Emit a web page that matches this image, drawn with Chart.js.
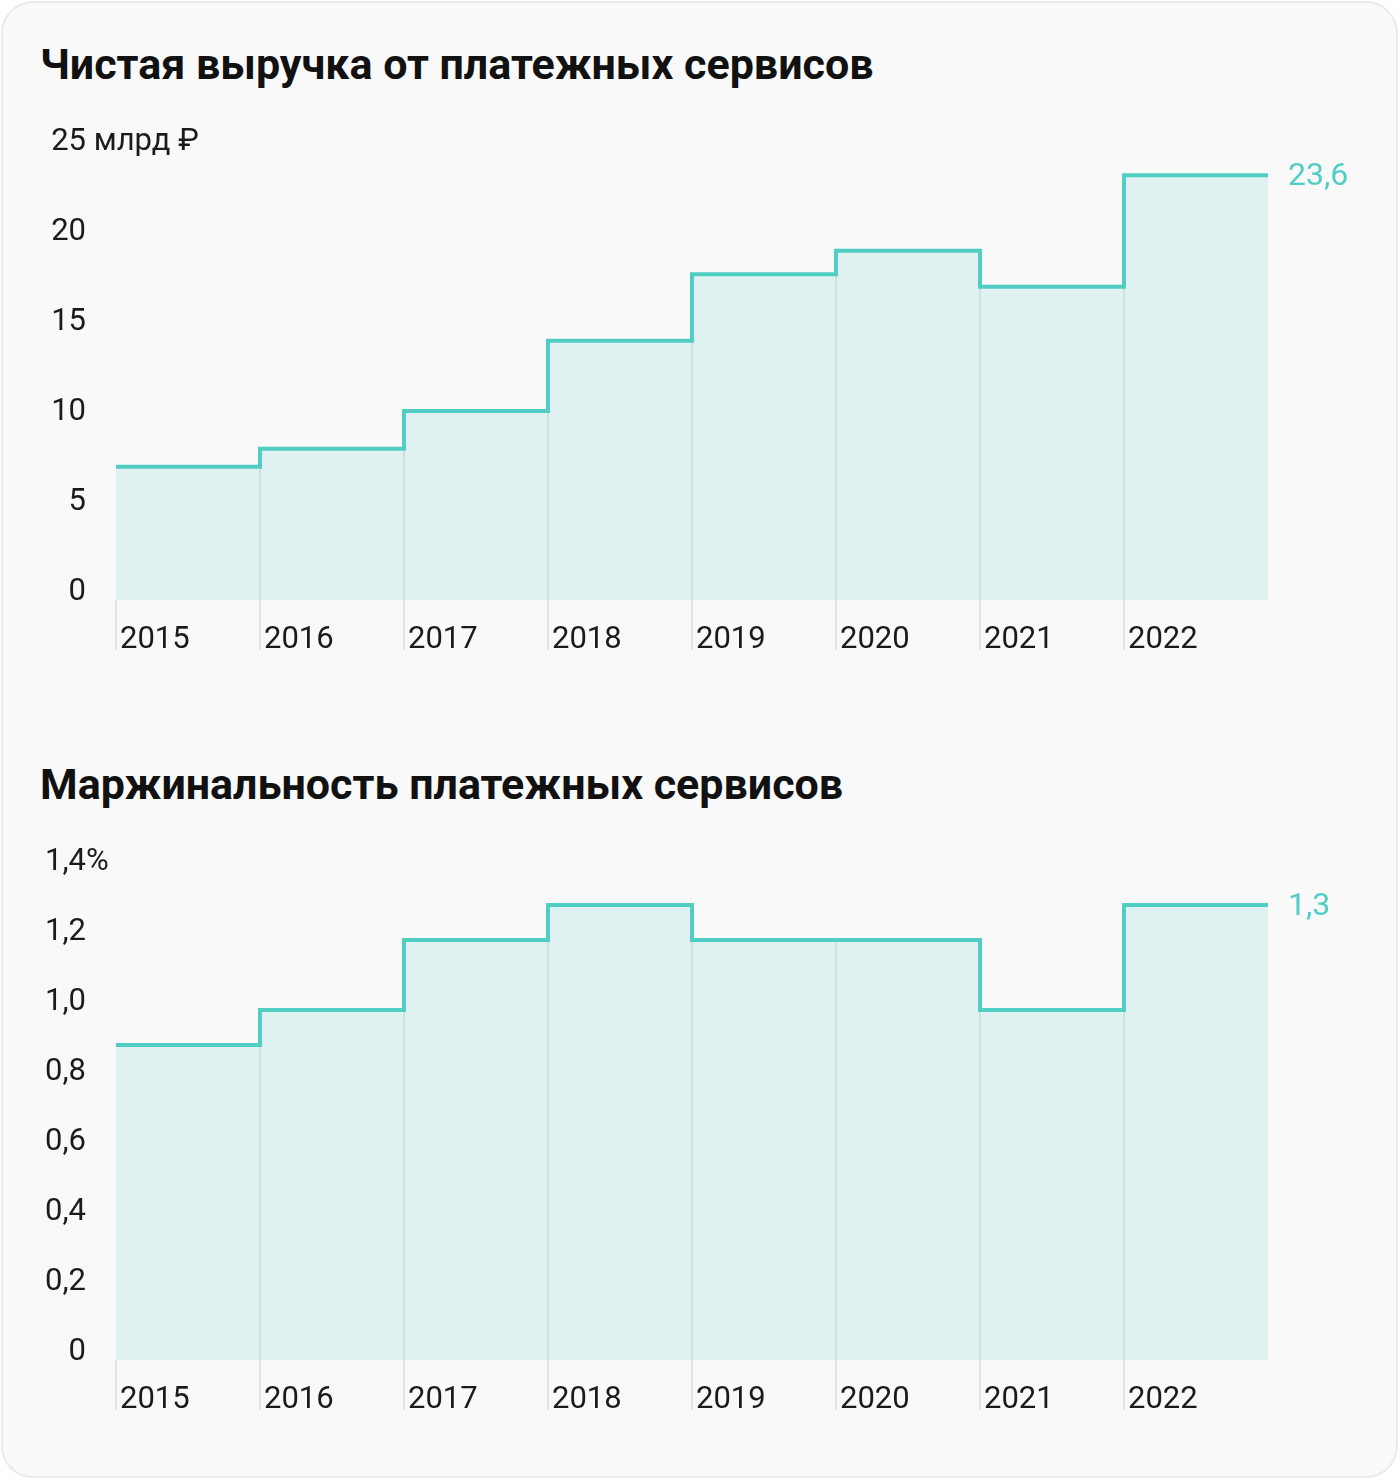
<!DOCTYPE html>
<html lang="ru">
<head>
<meta charset="utf-8">
<script src="https://cdn.jsdelivr.net/npm/chart.js@4.4.1/dist/chart.umd.min.js"></script>
<style>
  html, body { margin: 0; padding: 0; background: #fff; }
  body { width: 1400px; height: 1480px; position: relative; font-family: Roboto, sans-serif; }
  .card { position: absolute; left: 1px; top: 1px; width: 1397px; height: 1477px; box-sizing: border-box;
          border: 2px solid #ebebeb; border-radius: 32px; background: #f9f9f9; }
  .title { position: absolute; left: 40px; margin: 0; font-size: 43px; line-height: 43px; font-weight: 700; color: #111; }
  canvas { position: absolute; left: 0; }
</style>
</head>
<body>
<div class="card"></div>
<h2 class="title" style="top:43px">Чистая выручка от платежных сервисов</h2>
<canvas id="chart1" width="1400" height="600" style="top:100px"></canvas>
<h2 class="title" style="top:763px">Маржинальность платежных сервисов</h2>
<canvas id="chart2" width="1400" height="640" style="top:820px"></canvas>
<script>
// data
const years = ['2015', '2016', '2017', '2018', '2019', '2020', '2021', '2022'];
const revenue = [7.4, 8.4, 10.5, 14.4, 18.1, 19.4, 17.4, 23.6];   // млрд ₽
const margin = [0.9, 1.0, 1.2, 1.3, 1.2, 1.2, 1.0, 1.3];          // %
const revenueTicks = [0, 5, 10, 15, 20, 25];
const marginTicks = [0, 0.2, 0.4, 0.6, 0.8, 1.0, 1.2, 1.4];

const TEAL = '#50cec4';
const FILL = '#dff1f0';
const INNER = '#cde2df';
const TICK = '#e2e2e2';
const TEXT = '#1b1b1b';
const FONT = { family: 'Roboto', size: 31 };

const comma = v => String(v).replace('.', ',');

// vertical lines inside the fill + last value + unit of the top tick
function stepPlugin(values, ticks, unit) {
    return {
        id: 'steps',
        beforeDatasetDraw(chart) {
            const { ctx, scales: { x, y } } = chart;
            ctx.save();
            ctx.strokeStyle = INNER;
            ctx.lineWidth = 2;
            for (let i = 1; i < values.length; i++) {
                const px = Math.round(x.getPixelForValue(i));
                ctx.beginPath();
                ctx.moveTo(px, y.getPixelForValue(0));
                ctx.lineTo(px, y.getPixelForValue(Math.min(values[i - 1], values[i])));
                ctx.stroke();
            }
            ctx.restore();
        },
        afterDatasetsDraw(chart) {
            const { ctx, scales: { x, y } } = chart;
            const last = values[values.length - 1];
            ctx.save();
            ctx.font = FONT.size + 'px ' + FONT.family;
            ctx.textBaseline = 'middle';
            ctx.textAlign = 'left';
            ctx.fillStyle = TEAL;
            ctx.font = '32px ' + FONT.family;
            ctx.fillText(comma(last), x.getPixelForValue(values.length) + 20, y.getPixelForValue(last) + 2);
            ctx.font = FONT.size + 'px ' + FONT.family;
            ctx.fillStyle = TEXT;
            ctx.fillText(unit, y.right - y.options.ticks.padding, y.getPixelForValue(ticks[ticks.length - 1]) + y.options.ticks.labelOffset);
            ctx.restore();
        }
    };
}

function stepChart(id, values, ticks, unit, fmt, padBottom) {
    const points = values.map((v, i) => ({ x: i, y: v }));
    points.push({ x: values.length, y: values[values.length - 1] });

    return new Chart(document.getElementById(id), {
        type: 'line',
        data: {
            datasets: [{
                data: points,
                stepped: true,
                borderColor: TEAL,
                borderWidth: 4,
                borderCapStyle: 'butt',
                borderJoinStyle: 'miter',
                backgroundColor: FILL,
                fill: 'origin',
                pointRadius: 0
            }]
        },
        options: {
            responsive: false,
            animation: false,
            devicePixelRatio: 1,
            layout: { padding: { top: 50, right: 132, bottom: padBottom, left: 0 } },
            plugins: {
                legend: { display: false },
                tooltip: { enabled: false }
            },
            scales: {
                x: {
                    type: 'linear',
                    min: 0,
                    max: values.length,
                    afterBuildTicks: s => { s.ticks = years.map((y, i) => ({ value: i })); },
                    afterFit: s => { s.height = 60; },
                    grid: { drawOnChartArea: false, drawTicks: true, tickLength: 50, color: TICK, lineWidth: 2 },
                    border: { display: false },
                    ticks: {
                        align: 'start', labelOffset: 4, padding: -28, maxRotation: 0, autoSkip: false,
                        font: FONT, color: TEXT,
                        callback: v => years[v]
                    }
                },
                y: {
                    min: 0,
                    max: ticks[ticks.length - 1],
                    afterBuildTicks: s => { s.ticks = ticks.map(v => ({ value: v })); },
                    afterFit: s => { s.width = 116; },
                    grid: { display: false, drawTicks: false },
                    border: { display: false },
                    ticks: { padding: 30, labelOffset: -8, font: FONT, color: TEXT, callback: fmt }
                }
            }
        },
        plugins: [stepPlugin(values, ticks, unit)]
    });
}

stepChart('chart1', revenue, revenueTicks, ' млрд ₽', v => String(v), 40);
stepChart('chart2', margin, marginTicks, '%', v => v === 0 ? '0' : v.toFixed(1).replace('.', ','), 40);
</script>
</body>
</html>
